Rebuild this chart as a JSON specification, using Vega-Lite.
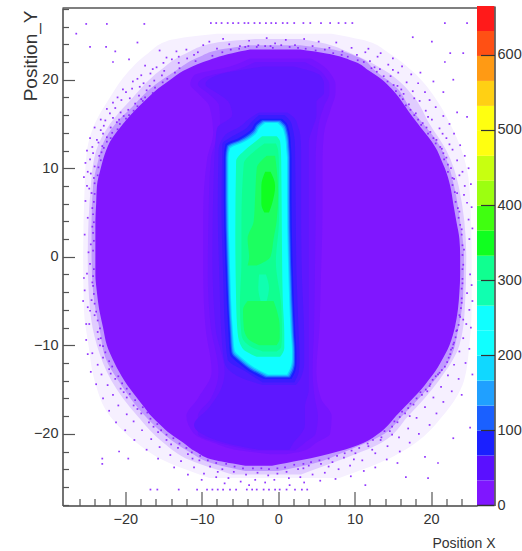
{
"$schema":"https://vega.github.io/schema/vega-lite/v6.json",
"width":432,"height":499.5,"autosize":{"type":"none"},
"padding":{"left":62.5,"top":6,"right":27.5,"bottom":45.5},
"background":"white",
"config":{"view":{"stroke":null},"axis":{"grid":false,"labelFont":"Liberation Sans","labelFontSize":14.5,"labelColor":"#333","titleFont":"Liberation Sans","titleFontWeight":"normal","titleColor":"#333","domainColor":"#444","domainWidth":1.5,"tickColor":"#555","tickWidth":1.2}},
"resolve":{"scale":{"x":"independent","y":"independent"},"axis":{"x":"independent","y":"independent"}},
"layer":[
{"data":{"values":[
{"g":"a","c":"f1","y":25.2,"a":-8,"b":7},{"g":"a","c":"f1","y":24.5,"a":-14,"b":11},{"g":"a","c":"f1","y":23,"a":-17,"b":14.5},{"g":"a","c":"f1","y":21,"a":-19.5,"b":17.5},{"g":"a","c":"f1","y":18,"a":-22,"b":20.5},{"g":"a","c":"f1","y":15,"a":-24,"b":22.5},{"g":"a","c":"f1","y":12,"a":-25,"b":24},{"g":"a","c":"f1","y":8,"a":-25.3,"b":25},{"g":"a","c":"f1","y":0,"a":-25.5,"b":25.3},{"g":"a","c":"f1","y":-6,"a":-25.4,"b":25.3},{"g":"a","c":"f1","y":-10,"a":-24.8,"b":25},{"g":"a","c":"f1","y":-14,"a":-24,"b":24.3},{"g":"a","c":"f1","y":-18,"a":-22,"b":21.5},{"g":"a","c":"f1","y":-21,"a":-18.5,"b":18},{"g":"a","c":"f1","y":-23,"a":-15,"b":14},{"g":"a","c":"f1","y":-25,"a":-9,"b":8},
{"g":"b","c":"f2","y":24.6,"a":-3,"b":3},{"g":"b","c":"f2","y":24.2,"a":-8,"b":5.5},{"g":"b","c":"f2","y":23,"a":-12,"b":9.5},{"g":"b","c":"f2","y":21,"a":-15.5,"b":14},{"g":"b","c":"f2","y":18,"a":-19,"b":17.8},{"g":"b","c":"f2","y":15,"a":-22,"b":19.8},{"g":"b","c":"f2","y":12,"a":-23.8,"b":22},{"g":"b","c":"f2","y":8,"a":-24.5,"b":23.6},{"g":"b","c":"f2","y":0,"a":-24.9,"b":24.6},{"g":"b","c":"f2","y":-6,"a":-24.6,"b":24.4},{"g":"b","c":"f2","y":-10,"a":-23.7,"b":23.7},{"g":"b","c":"f2","y":-14,"a":-21.8,"b":21},{"g":"b","c":"f2","y":-18,"a":-18.4,"b":17},{"g":"b","c":"f2","y":-21,"a":-15,"b":13.5},{"g":"b","c":"f2","y":-23,"a":-11.5,"b":8},{"g":"b","c":"f2","y":-24.6,"a":-6,"b":3},
{"g":"b2","c":"f3","y":23.9,"a":-3.7,"b":2.9},{"g":"b2","c":"f3","y":23.5,"a":-7,"b":6.5},{"g":"b2","c":"f3","y":22.5,"a":-10.5,"b":10.6},{"g":"b2","c":"f3","y":21,"a":-13.4,"b":12.7},{"g":"b2","c":"f3","y":19,"a":-16.7,"b":15.6},{"g":"b2","c":"f3","y":17,"a":-19,"b":17.1},{"g":"b2","c":"f3","y":15,"a":-21.3,"b":19},{"g":"b2","c":"f3","y":13,"a":-22.8,"b":20.8},{"g":"b2","c":"f3","y":11,"a":-23.5,"b":22},{"g":"b2","c":"f3","y":8,"a":-24.2,"b":23},{"g":"b2","c":"f3","y":4,"a":-24.4,"b":23.8},{"g":"b2","c":"f3","y":0,"a":-24.4,"b":24.3},{"g":"b2","c":"f3","y":-4,"a":-24.2,"b":24.2},{"g":"b2","c":"f3","y":-8,"a":-23.4,"b":23.6},{"g":"b2","c":"f3","y":-12,"a":-22.3,"b":22.2},{"g":"b2","c":"f3","y":-14,"a":-20.9,"b":20.4},{"g":"b2","c":"f3","y":-16,"a":-19.3,"b":18.4},{"g":"b2","c":"f3","y":-18,"a":-17.4,"b":16.2},{"g":"b2","c":"f3","y":-20,"a":-15,"b":13.9},{"g":"b2","c":"f3","y":-22,"a":-11.7,"b":8.8},{"g":"b2","c":"f3","y":-23.5,"a":-8,"b":4},{"g":"b2","c":"f3","y":-24.2,"a":-4.3,"b":0},
{"g":"c","c":"0","y":23.4,"a":-3.7,"b":2.9},{"g":"c","c":"0","y":23,"a":-6,"b":6.1},{"g":"c","c":"0","y":22,"a":-9.8,"b":10.1},{"g":"c","c":"0","y":21,"a":-12.4,"b":11.9},{"g":"c","c":"0","y":20,"a":-14.1,"b":13.6},{"g":"c","c":"0","y":19,"a":-15.7,"b":14.8},{"g":"c","c":"0","y":18,"a":-17,"b":15.8},{"g":"c","c":"0","y":17,"a":-18.2,"b":16.6},{"g":"c","c":"0","y":16,"a":-19.3,"b":17.4},{"g":"c","c":"0","y":15,"a":-20.3,"b":18.3},{"g":"c","c":"0","y":14,"a":-21.2,"b":19.2},{"g":"c","c":"0","y":13,"a":-22,"b":20.1},{"g":"c","c":"0","y":12,"a":-22.5,"b":20.8},{"g":"c","c":"0","y":11,"a":-22.9,"b":21.3},{"g":"c","c":"0","y":10,"a":-23.2,"b":21.8},{"g":"c","c":"0","y":8,"a":-23.7,"b":22.5},{"g":"c","c":"0","y":6,"a":-23.8,"b":22.9},{"g":"c","c":"0","y":4,"a":-23.9,"b":23.3},{"g":"c","c":"0","y":2,"a":-23.9,"b":23.7},{"g":"c","c":"0","y":0,"a":-23.9,"b":23.8},{"g":"c","c":"0","y":-2,"a":-23.9,"b":23.8},{"g":"c","c":"0","y":-4,"a":-23.7,"b":23.7},{"g":"c","c":"0","y":-6,"a":-23.4,"b":23.5},{"g":"c","c":"0","y":-8,"a":-22.9,"b":23.1},{"g":"c","c":"0","y":-10,"a":-22.4,"b":22.4},{"g":"c","c":"0","y":-12,"a":-21.4,"b":21.2},{"g":"c","c":"0","y":-13,"a":-20.8,"b":20.5},{"g":"c","c":"0","y":-14,"a":-20.1,"b":19.6},{"g":"c","c":"0","y":-15,"a":-19.3,"b":18.7},{"g":"c","c":"0","y":-16,"a":-18.4,"b":17.6},{"g":"c","c":"0","y":-17,"a":-17.5,"b":16.5},{"g":"c","c":"0","y":-18,"a":-16.6,"b":15.4},{"g":"c","c":"0","y":-19,"a":-15.4,"b":14.4},{"g":"c","c":"0","y":-20,"a":-14.1,"b":13.1},{"g":"c","c":"0","y":-21,"a":-12.4,"b":11.2},{"g":"c","c":"0","y":-22,"a":-10.8,"b":7.8},{"g":"c","c":"0","y":-23,"a":-8.2,"b":2.9},{"g":"c","c":"0","y":-23.6,"a":-4.3,"b":-0.8},
{"g":"d","c":"h1","y":22.4,"a":-3.7,"b":4.3},{"g":"d","c":"h1","y":21.5,"a":-6.3,"b":6},{"g":"d","c":"h1","y":20.5,"a":-11,"b":7},{"g":"d","c":"h1","y":19.5,"a":-11.5,"b":7.5},{"g":"d","c":"h1","y":18.5,"a":-10.5,"b":7.5},{"g":"d","c":"h1","y":17,"a":-9,"b":7},{"g":"d","c":"h1","y":14,"a":-8.5,"b":6},{"g":"d","c":"h1","y":11,"a":-9.3,"b":5.8},{"g":"d","c":"h1","y":5,"a":-9.8,"b":5.8},{"g":"d","c":"h1","y":-2,"a":-9.8,"b":5.6},{"g":"d","c":"h1","y":-8,"a":-9.5,"b":5.4},{"g":"d","c":"h1","y":-13,"a":-8.7,"b":5},{"g":"d","c":"h1","y":-16,"a":-10.5,"b":5.6},{"g":"d","c":"h1","y":-18,"a":-12,"b":7},{"g":"d","c":"h1","y":-20,"a":-11,"b":6.8},{"g":"d","c":"h1","y":-21,"a":-8.5,"b":5},{"g":"d","c":"h1","y":-22,"a":-4,"b":3},{"g":"d","c":"h1","y":-22.3,"a":-1,"b":1},
{"g":"d2","c":"h6","y":22,"a":-3,"b":3.5},{"g":"d2","c":"h6","y":21,"a":-6,"b":5.5},{"g":"d2","c":"h6","y":20.3,"a":-9.5,"b":6.2},{"g":"d2","c":"h6","y":19.5,"a":-10.5,"b":6.7},{"g":"d2","c":"h6","y":18.5,"a":-9.2,"b":6.7},{"g":"d2","c":"h6","y":17,"a":-7.7,"b":6},{"g":"d2","c":"h6","y":15,"a":-7.6,"b":5.3},{"g":"d2","c":"h6","y":11,"a":-8.8,"b":4.9},{"g":"d2","c":"h6","y":5,"a":-9.1,"b":4.9},{"g":"d2","c":"h6","y":-2,"a":-9.2,"b":4.8},{"g":"d2","c":"h6","y":-8,"a":-8.8,"b":4.7},{"g":"d2","c":"h6","y":-13,"a":-7.8,"b":4.5},{"g":"d2","c":"h6","y":-16,"a":-8.8,"b":4.8},{"g":"d2","c":"h6","y":-18,"a":-10.5,"b":5.2},{"g":"d2","c":"h6","y":-20,"a":-10.5,"b":4.9},{"g":"d2","c":"h6","y":-21,"a":-7.8,"b":3.5},{"g":"d2","c":"h6","y":-21.9,"a":-3.2,"b":2.2},
{"g":"e","c":"h2","y":21.5,"a":-2,"b":2},{"g":"e","c":"h2","y":20.5,"a":-8,"b":5.5},{"g":"e","c":"h2","y":19.5,"a":-9.5,"b":6},{"g":"e","c":"h2","y":18.5,"a":-8,"b":6},{"g":"e","c":"h2","y":17.5,"a":-6.5,"b":5},{"g":"e","c":"h2","y":16,"a":-6,"b":5},{"g":"e","c":"h2","y":14.5,"a":-8,"b":4.5},{"g":"e","c":"h2","y":13,"a":-8.2,"b":4},{"g":"e","c":"h2","y":10,"a":-8.4,"b":4},{"g":"e","c":"h2","y":0,"a":-8.6,"b":4},{"g":"e","c":"h2","y":-8,"a":-8.2,"b":4},{"g":"e","c":"h2","y":-13,"a":-7,"b":4},{"g":"e","c":"h2","y":-15,"a":-7.5,"b":4},{"g":"e","c":"h2","y":-17,"a":-9,"b":3.5},{"g":"e","c":"h2","y":-19,"a":-11,"b":3.5},{"g":"e","c":"h2","y":-20,"a":-10,"b":3},{"g":"e","c":"h2","y":-21,"a":-7,"b":2},{"g":"e","c":"h2","y":-21.8,"a":-2.5,"b":1.5},
{"g":"e2","c":"h4","y":16.3,"a":-2.5,"b":1.2},{"g":"e2","c":"h4","y":15.6,"a":-3.8,"b":2.2},{"g":"e2","c":"h4","y":14.7,"a":-5,"b":2.6},{"g":"e2","c":"h4","y":13.7,"a":-7,"b":2.9},{"g":"e2","c":"h4","y":12,"a":-7.8,"b":3},{"g":"e2","c":"h4","y":5,"a":-7.9,"b":3},{"g":"e2","c":"h4","y":-2,"a":-7.7,"b":3.1},{"g":"e2","c":"h4","y":-9,"a":-7.4,"b":3.4},{"g":"e2","c":"h4","y":-12,"a":-7,"b":3.4},{"g":"e2","c":"h4","y":-13.6,"a":-5,"b":3},{"g":"e2","c":"h4","y":-14.5,"a":-2,"b":2.3},
{"g":"e3","c":"h5","y":16,"a":-2.5,"b":0.8},{"g":"e3","c":"h5","y":15.3,"a":-3.4,"b":1.6},{"g":"e3","c":"h5","y":14.5,"a":-4.2,"b":1.9},{"g":"e3","c":"h5","y":13.6,"a":-6,"b":2.1},{"g":"e3","c":"h5","y":12.7,"a":-7.3,"b":2.2},{"g":"e3","c":"h5","y":5,"a":-7.4,"b":2.3},{"g":"e3","c":"h5","y":-2,"a":-7.2,"b":2.4},{"g":"e3","c":"h5","y":-9,"a":-6.9,"b":2.7},{"g":"e3","c":"h5","y":-11.6,"a":-6.6,"b":2.8},{"g":"e3","c":"h5","y":-13,"a":-4.2,"b":2.7},{"g":"e3","c":"h5","y":-14.2,"a":-2,"b":2.1},
{"g":"f","c":"2","y":15.6,"a":-2.3,"b":0.5},{"g":"f","c":"2","y":15.1,"a":-3,"b":1.1},{"g":"f","c":"2","y":14.4,"a":-3.5,"b":1.4},{"g":"f","c":"2","y":13.4,"a":-5.2,"b":1.6},{"g":"f","c":"2","y":12.7,"a":-6.9,"b":1.65},{"g":"f","c":"2","y":11.2,"a":-7.1,"b":1.75},{"g":"f","c":"2","y":6.5,"a":-7.1,"b":1.75},{"g":"f","c":"2","y":-1.1,"a":-6.9,"b":1.9},{"g":"f","c":"2","y":-8.6,"a":-6.5,"b":2.25},{"g":"f","c":"2","y":-11,"a":-6.3,"b":2.4},{"g":"f","c":"2","y":-12.1,"a":-5.1,"b":2.4},{"g":"f","c":"2","y":-12.9,"a":-3.9,"b":2.25},{"g":"f","c":"2","y":-13.8,"a":-1.9,"b":1.75},
{"g":"g","c":"3","y":15.43,"a":-2.1,"b":0.3},{"g":"g","c":"3","y":14.93,"a":-2.8,"b":0.9},{"g":"g","c":"3","y":14.23,"a":-3.3,"b":1.2},{"g":"g","c":"3","y":13.23,"a":-5,"b":1.4},{"g":"g","c":"3","y":12.53,"a":-6.7,"b":1.45},{"g":"g","c":"3","y":11.2,"a":-6.9,"b":1.55},{"g":"g","c":"3","y":6.5,"a":-6.9,"b":1.55},{"g":"g","c":"3","y":-1.1,"a":-6.7,"b":1.7},{"g":"g","c":"3","y":-8.6,"a":-6.3,"b":2.05},{"g":"g","c":"3","y":-10.83,"a":-6.1,"b":2.2},{"g":"g","c":"3","y":-11.93,"a":-4.9,"b":2.2},{"g":"g","c":"3","y":-12.73,"a":-3.7,"b":2.05},{"g":"g","c":"3","y":-13.63,"a":-1.7,"b":1.55},
{"g":"h","c":"4","y":15.32,"a":-1.97,"b":0.17},{"g":"h","c":"4","y":14.82,"a":-2.67,"b":0.77},{"g":"h","c":"4","y":14.12,"a":-3.17,"b":1.07},{"g":"h","c":"4","y":13.12,"a":-4.87,"b":1.27},{"g":"h","c":"4","y":12.42,"a":-6.57,"b":1.32},{"g":"h","c":"4","y":11.2,"a":-6.77,"b":1.42},{"g":"h","c":"4","y":6.5,"a":-6.77,"b":1.42},{"g":"h","c":"4","y":-1.1,"a":-6.57,"b":1.57},{"g":"h","c":"4","y":-8.6,"a":-6.17,"b":1.92},{"g":"h","c":"4","y":-10.72,"a":-5.97,"b":2.07},{"g":"h","c":"4","y":-11.82,"a":-4.77,"b":2.07},{"g":"h","c":"4","y":-12.62,"a":-3.57,"b":1.92},{"g":"h","c":"4","y":-13.52,"a":-1.57,"b":1.42},
{"g":"i","c":"5","y":15.21,"a":-1.83,"b":0.03},{"g":"i","c":"5","y":14.71,"a":-2.53,"b":0.63},{"g":"i","c":"5","y":14.01,"a":-3.03,"b":0.93},{"g":"i","c":"5","y":13.01,"a":-4.73,"b":1.13},{"g":"i","c":"5","y":12.31,"a":-6.43,"b":1.18},{"g":"i","c":"5","y":11.2,"a":-6.63,"b":1.28},{"g":"i","c":"5","y":6.5,"a":-6.63,"b":1.28},{"g":"i","c":"5","y":-1.1,"a":-6.43,"b":1.43},{"g":"i","c":"5","y":-8.6,"a":-6.03,"b":1.78},{"g":"i","c":"5","y":-10.61,"a":-5.83,"b":1.93},{"g":"i","c":"5","y":-11.71,"a":-4.63,"b":1.93},{"g":"i","c":"5","y":-12.51,"a":-3.43,"b":1.78},{"g":"i","c":"5","y":-13.41,"a":-1.43,"b":1.28},
{"g":"j","c":"6","y":15.1,"a":-1.7,"b":-0.1},{"g":"j","c":"6","y":14.6,"a":-2.4,"b":0.5},{"g":"j","c":"6","y":13.9,"a":-2.9,"b":0.8},{"g":"j","c":"6","y":12.9,"a":-4.6,"b":1},{"g":"j","c":"6","y":12.2,"a":-6.3,"b":1.05},{"g":"j","c":"6","y":11.2,"a":-6.5,"b":1.15},{"g":"j","c":"6","y":6.5,"a":-6.5,"b":1.15},{"g":"j","c":"6","y":-1.1,"a":-6.3,"b":1.3},{"g":"j","c":"6","y":-8.6,"a":-5.9,"b":1.65},{"g":"j","c":"6","y":-10.5,"a":-5.7,"b":1.8},{"g":"j","c":"6","y":-11.6,"a":-4.5,"b":1.8},{"g":"j","c":"6","y":-12.4,"a":-3.3,"b":1.65},{"g":"j","c":"6","y":-13.3,"a":-1.3,"b":1.15},
{"g":"k","c":"8","y":13.6,"a":-2.1,"b":-0.2},{"g":"k","c":"8","y":13,"a":-3,"b":0.26},{"g":"k","c":"8","y":12.1,"a":-4.3,"b":0.35},{"g":"k","c":"8","y":10.8,"a":-5.5,"b":0.4},{"g":"k","c":"8","y":2.7,"a":-5.6,"b":0.48},{"g":"k","c":"8","y":-4.9,"a":-5.5,"b":0.6},{"g":"k","c":"8","y":-8.6,"a":-5.3,"b":0.8},{"g":"k","c":"8","y":-10.3,"a":-4.7,"b":0.8},{"g":"k","c":"8","y":-11.3,"a":-2.8,"b":0.26},
{"g":"l","c":"9","y":12.8,"a":-1.8,"b":-0.3},{"g":"l","c":"9","y":12,"a":-3,"b":0},{"g":"l","c":"9","y":10.5,"a":-4.5,"b":0.1},{"g":"l","c":"9","y":4,"a":-4.8,"b":0.1},{"g":"l","c":"9","y":-0.5,"a":-4.8,"b":-0.3},{"g":"l","c":"9","y":-5.5,"a":-5,"b":0.4},{"g":"l","c":"9","y":-8.8,"a":-4.8,"b":0.5},{"g":"l","c":"9","y":-10.2,"a":-3.5,"b":0.4},{"g":"l","c":"9","y":-10.7,"a":-2,"b":-0.2},
{"g":"m","c":"h3","y":11.4,"a":-1.5,"b":-0.4},{"g":"m","c":"h3","y":10,"a":-2.8,"b":-0.2},{"g":"m","c":"h3","y":7,"a":-3,"b":0},{"g":"m","c":"h3","y":4,"a":-3.2,"b":-0.2},{"g":"m","c":"h3","y":2,"a":-4,"b":-0.6},{"g":"m","c":"h3","y":0,"a":-3.8,"b":-1},{"g":"m","c":"h3","y":-1,"a":-4,"b":-2.8},
{"g":"n","c":"h3","y":-5,"a":-4,"b":-0.6},{"g":"n","c":"h3","y":-6,"a":-4.6,"b":-0.2},{"g":"n","c":"h3","y":-8,"a":-4.5,"b":0.2},{"g":"n","c":"h3","y":-9.2,"a":-4,"b":0.2},{"g":"n","c":"h3","y":-10,"a":-2.5,"b":-0.2},
{"g":"o","c":"10","y":9.6,"a":-1.7,"b":-1},{"g":"o","c":"10","y":8,"a":-2.2,"b":-0.4},{"g":"o","c":"10","y":6,"a":-2.2,"b":-0.8},{"g":"o","c":"10","y":5,"a":-1.8,"b":-1.2},
{"g":"p","c":"8","y":-2,"a":-2.5,"b":-1.6},{"g":"p","c":"8","y":-3.5,"a":-2.6,"b":-1.2},{"g":"p","c":"8","y":-5,"a":-2.3,"b":-1.5}
]},
"mark":{"type":"area","orient":"horizontal","interpolate":"monotone"},
"encoding":{
"y":{"field":"y","type":"quantitative","scale":{"domain":[-28.1,28.1],"range":[499.5,2],"nice":false,"zero":false},"axis":{"orient":"left","values":[-20,-10,0,10,20],"ticks":false,"labelPadding":4.5,"zindex":1,"title":"Position_Y","titleFontSize":19,"titleAngle":-90,"titleAlign":"right","titleX":-22.5,"titleY":4}},
"x":{"field":"a","type":"quantitative","scale":{"domain":[-28.2,26],"range":[0,414.5],"nice":false,"zero":false},"axis":{"orient":"bottom","values":[-20,-10,0,10,20],"ticks":false,"labelPadding":7,"zindex":1,"title":"Position  X","titleFontSize":14,"titleAlign":"right","titleX":432.5,"titleY":31}},
"x2":{"field":"b"},
"detail":{"field":"g"},
"color":{"field":"c","type":"nominal","legend":null,"scale":{"domain":["0","1","2","3","4","5","6","7","8","9","10","11","12","13","14","15","16","17","18","19","f1","f2","f3","h1","h2","h3","h4","h5","h6"],"range":["#8016ff","#5a10ff","#1a20ff","#1a60ff","#20a0ff","#10d8ff","#10ffff","#10ffff","#10ffb0","#10ff90","#10ff20","#40ff10","#9cff10","#c8ff10","#ffff10","#ffff10","#ffd014","#ff9a14","#ff5014","#ff1a1a","#f6f0ff","#e0ccff","#c09aff","#7514ff","#5e17ff","#1cff60","#4e1aff","#3a1cff","#6a15ff"]}}
}},
{"data":{"values":[
{"x":-25.1,"y":26.3},{"x":-22.4,"y":26.3},{"x":-17.5,"y":26.3},{"x":-26.4,"y":25.2},{"x":-24.6,"y":23.7},{"x":-22.5,"y":23.7},{"x":-21.3,"y":23.2},{"x":-19.5,"y":22.3},{"x":-21.6,"y":22},{"x":-18.4,"y":24.2},
{"x":-23,"y":-22.8},{"x":-23,"y":-23.4},{"x":-20.8,"y":-22},{"x":-19.6,"y":-22.8},{"x":-16.7,"y":-26.3},{"x":-15.8,"y":-26.3},{"x":-13,"y":-26.3},{"x":-10.6,"y":-26.3},
{"x":21.8,"y":26.4},{"x":24.7,"y":26.4},{"x":22.5,"y":23},{"x":24.2,"y":23},{"x":21.8,"y":22},{"x":22.9,"y":20},{"x":20.1,"y":24.3},{"x":17.6,"y":24.8},{"x":20.3,"y":19.8},{"x":21.6,"y":18.6},{"x":18.6,"y":20.8},{"x":24.7,"y":15.8},{"x":23.4,"y":16.3},
{"x":25.1,"y":-19.3},{"x":22.9,"y":-20.5},{"x":20.9,"y":-23.3},{"x":19.6,"y":-25},{"x":16.7,"y":-24.9},{"x":15.6,"y":-23.3},{"x":19.2,"y":-22.6},{"x":11.4,"y":-25.8},{"x":24,"y":-15.6},{"x":25.4,"y":-13.3},
{"x":-8.8,"y":26.4},{"x":-8.1,"y":26.4},{"x":-7.4,"y":26.4},{"x":-6.6,"y":26.4},{"x":-5.9,"y":26.4},{"x":-5.2,"y":26.4},{"x":-4.4,"y":26.4},{"x":-3.9,"y":26.4},{"x":-3.1,"y":26.4},{"x":-2.4,"y":26.4},{"x":-1.6,"y":26.4},{"x":-0.9,"y":26.4},{"x":-0.3,"y":26.4},{"x":0.6,"y":26.4},{"x":1.2,"y":26.4},{"x":2.1,"y":26.4},{"x":3.3,"y":26.4},{"x":4.2,"y":26.4},{"x":5.6,"y":26.4},{"x":6.8,"y":26.4},{"x":7.9,"y":26.4},{"x":8.8,"y":26.4},{"x":9.7,"y":26.4},
{"x":-9.3,"y":-26.3},{"x":-8.6,"y":-26.3},{"x":-7.9,"y":-26.3},{"x":-7.2,"y":-26.3},{"x":-6.3,"y":-26.3},{"x":-5.5,"y":-26.3},{"x":-4.1,"y":-26.3},{"x":-3.4,"y":-26.3},{"x":-2.8,"y":-26.3},{"x":-1.9,"y":-26.3},{"x":-1.2,"y":-26.3},{"x":-0.4,"y":-26.3},{"x":0.2,"y":-26.3},{"x":1.1,"y":-26.3},{"x":2.2,"y":-26.3},{"x":3.1,"y":-26.3},{"x":3.8,"y":-26.3},
{"x":-12,"y":23.4},{"x":-11,"y":22.8},{"x":-13.3,"y":23.2},{"x":-9.8,"y":23.9},{"x":-14.6,"y":22.5},{"x":-15.5,"y":23.3},{"x":-13,"y":21.9},{"x":-15.9,"y":21.4},{"x":-14.9,"y":21},{"x":-16.7,"y":20.7},{"x":-17.4,"y":21.6},{"x":-16.2,"y":19.9},{"x":-17.6,"y":19.6},{"x":-18.4,"y":20.1},{"x":-17.2,"y":18.8},{"x":-19.1,"y":19},{"x":-18.2,"y":18.2},{"x":-19.9,"y":18.6},{"x":-18.7,"y":17.3},{"x":-20.5,"y":17.7},{"x":-19.6,"y":16.6},{"x":-21.3,"y":16.8},{"x":-20.2,"y":15.9},{"x":-22,"y":16.2},{"x":-21.1,"y":15.2},{"x":-22.6,"y":15.4},{"x":-21.9,"y":14.6},{"x":-23.2,"y":14.3},{"x":-22.4,"y":13.5},{"x":-23.7,"y":13.2},{"x":-23,"y":12.5},{"x":-24.3,"y":12.4},{"x":-23.4,"y":11.4},{"x":-24.6,"y":11},{"x":-24,"y":10.2},{"x":-24.9,"y":9.6},{"x":-24.1,"y":8.9},{"x":-25,"y":8},{"x":-24.4,"y":7.2},{"x":-25.2,"y":6.3},{"x":-24.3,"y":5.5},{"x":-24.9,"y":4.4},{"x":-24.3,"y":3.4},{"x":-25.3,"y":2.5},{"x":-24.5,"y":1.4},{"x":-24.8,"y":0.5},
{"x":-10.5,"y":23.1},{"x":-8,"y":23.5},{"x":-6.4,"y":24},{"x":-5,"y":23.8},{"x":-7.2,"y":24.6},{"x":-3.8,"y":24.4},{"x":-2.6,"y":23.9},{"x":-1.5,"y":24.7},{"x":-0.4,"y":24.1},{"x":-11.9,"y":22.4},{"x":-13.9,"y":22.3},{"x":-15.2,"y":20.5},{"x":-16.8,"y":19.3},{"x":-18.1,"y":19.2},{"x":-19.4,"y":17.9},{"x":-20.6,"y":16.3},{"x":-21.6,"y":15.7},{"x":-22.8,"y":14.8},{"x":-23.5,"y":12.9},{"x":-24.2,"y":11.7},{"x":-24.5,"y":9.4},{"x":-24.7,"y":7.7},{"x":-9,"y":24.3},{"x":-4.3,"y":23.7},{"x":-1,"y":23.8},{"x":-17.9,"y":17.8},{"x":-20.8,"y":15.5},{"x":-22.9,"y":13.9},
{"x":1,"y":24.5},{"x":2.2,"y":23.9},{"x":3.4,"y":24.6},{"x":4.5,"y":23.8},{"x":5.3,"y":24.3},{"x":6.7,"y":23.6},{"x":7.6,"y":24.2},{"x":8.4,"y":23.2},{"x":9.6,"y":23.6},{"x":10.3,"y":22.8},{"x":11.4,"y":23.1},{"x":12,"y":22.1},{"x":13,"y":22.6},{"x":13.3,"y":21.2},{"x":14.4,"y":21.7},{"x":14.7,"y":20.4},{"x":15.7,"y":20.8},{"x":15.6,"y":19.3},{"x":16.8,"y":19.7},{"x":16.4,"y":18.4},{"x":17.6,"y":18.7},{"x":17.1,"y":17.2},{"x":18.5,"y":17.6},{"x":18,"y":16.2},{"x":19.3,"y":16.5},{"x":18.9,"y":15.1},{"x":20.1,"y":15.5},{"x":19.9,"y":14.1},{"x":21.1,"y":14.5},{"x":20.7,"y":13.2},{"x":22,"y":13.4},{"x":21.4,"y":12.2},{"x":22.8,"y":12.1},{"x":22,"y":11.2},{"x":23.4,"y":10.9},{"x":22.6,"y":10},{"x":24.1,"y":9.6},{"x":23,"y":8.8},{"x":24.4,"y":8},{"x":23.4,"y":7.2},{"x":24.7,"y":6.1},{"x":23.7,"y":5.1},{"x":24.9,"y":4.2},{"x":24,"y":3.1},{"x":25,"y":2},{"x":24.3,"y":0.8},
{"x":12.6,"y":21.4},{"x":15,"y":21.1},{"x":16.1,"y":18.9},{"x":17.8,"y":17.9},{"x":19.6,"y":15.8},{"x":21.5,"y":13.9},{"x":22.4,"y":12.7},{"x":23.7,"y":9.2},{"x":24.3,"y":7},
{"x":-24.6,"y":-0.8},{"x":-25,"y":-1.9},{"x":-24.3,"y":-2.9},{"x":-25.3,"y":-3.8},{"x":-24.4,"y":-4.9},{"x":-24.9,"y":-5.7},{"x":-24,"y":-6.6},{"x":-24.7,"y":-7.6},{"x":-23.6,"y":-8.5},{"x":-25.1,"y":-9.4},{"x":-23.3,"y":-10},{"x":-24.3,"y":-10.9},{"x":-22.9,"y":-11.4},{"x":-23.6,"y":-12.2},{"x":-22.1,"y":-12.7},{"x":-23.1,"y":-13.3},{"x":-21.3,"y":-13.8},{"x":-22.3,"y":-14.5},{"x":-20.6,"y":-14.9},{"x":-21.6,"y":-15.6},{"x":-19.8,"y":-15.9},{"x":-20.9,"y":-16.8},{"x":-18.9,"y":-16.8},{"x":-19.8,"y":-17.8},{"x":-17.9,"y":-17.7},{"x":-18.9,"y":-18.6},{"x":-16.9,"y":-18.7},{"x":-17.8,"y":-19.6},{"x":-15.7,"y":-19.8},{"x":-16.6,"y":-20.6},{"x":-14.6,"y":-20.7},{"x":-15.5,"y":-21.5},{"x":-13.1,"y":-21.6},{"x":-14.1,"y":-22.4},{"x":-11.8,"y":-22.3},{"x":-12.7,"y":-23.1},{"x":-10.3,"y":-23},{"x":-11,"y":-23.8},{"x":-8.9,"y":-23.7},{"x":-9.7,"y":-24.5},{"x":-7.3,"y":-24},{"x":-8.1,"y":-24.9},{"x":-5.8,"y":-24.3},{"x":-6.5,"y":-25},{"x":-4.2,"y":-24.6},{"x":-4.9,"y":-25.4},{"x":-2.7,"y":-24.4},{"x":-3,"y":-25.2},{"x":-1.3,"y":-24.7},{"x":-1.7,"y":-25.5},{"x":-0.1,"y":-24.5},{"x":-0.5,"y":-25.2},
{"x":-24.1,"y":-1.4},{"x":-24.6,"y":-6.1},{"x":-23.5,"y":-9.3},{"x":-21.9,"y":-13.2},{"x":-20.2,"y":-15.3},{"x":-18.4,"y":-17.2},{"x":-16.3,"y":-19.2},{"x":-14,"y":-21.2},{"x":-11.2,"y":-22.8},{"x":-7.9,"y":-24.3},
{"x":1.1,"y":-24.3},{"x":1.4,"y":-25},{"x":2.6,"y":-24},{"x":2.9,"y":-24.9},{"x":4,"y":-23.6},{"x":4.5,"y":-24.6},{"x":5.6,"y":-23.4},{"x":6.1,"y":-24.4},{"x":7.1,"y":-23.2},{"x":7.9,"y":-24},{"x":8.6,"y":-22.7},{"x":9.4,"y":-23.6},{"x":10.1,"y":-22.2},{"x":11,"y":-23},{"x":11.8,"y":-21.4},{"x":12.7,"y":-22.2},{"x":13.4,"y":-20.7},{"x":14.3,"y":-21.4},{"x":14.6,"y":-19.7},{"x":15.8,"y":-20.4},{"x":15.6,"y":-18.7},{"x":17,"y":-19.4},{"x":16.6,"y":-17.7},{"x":18.1,"y":-18.2},{"x":17.7,"y":-16.7},{"x":19.2,"y":-17},{"x":18.8,"y":-15.6},{"x":20.3,"y":-15.9},{"x":19.8,"y":-14.6},{"x":21.3,"y":-14.7},{"x":20.6,"y":-13.5},{"x":22.2,"y":-13.4},{"x":21.8,"y":-12.4},{"x":23,"y":-12.2},{"x":22.5,"y":-11},{"x":23.7,"y":-10.7},{"x":23,"y":-9.7},{"x":24.2,"y":-9.2},{"x":23.4,"y":-8.3},{"x":24.6,"y":-7.6},{"x":23.8,"y":-6.8},{"x":25,"y":-6},{"x":24,"y":-5.2},{"x":24.7,"y":-4.1},{"x":24.1,"y":-3},{"x":25.1,"y":-2},{"x":24.2,"y":-0.9},
{"x":3.3,"y":-23.9},{"x":6.6,"y":-23.7},{"x":9.9,"y":-22.9},{"x":12.3,"y":-21.8},{"x":14.9,"y":-20.1},{"x":17.2,"y":-18},{"x":19.5,"y":-15.2},{"x":21.1,"y":-13.1},{"x":22.8,"y":-10.3},{"x":24.2,"y":-7.1},
{"x":-10.8,"y":22.1},{"x":-12.9,"y":21.3},{"x":-13.5,"y":20.8},{"x":-14.5,"y":20.1},{"x":-15.1,"y":19.7},{"x":-16.1,"y":19.1},{"x":-16.4,"y":18.5},{"x":-17.4,"y":18},{"x":-17.7,"y":17.6},{"x":-18.4,"y":17},{"x":-18.9,"y":16.5},{"x":-19.5,"y":16},{"x":-19.9,"y":15.6},{"x":-20.7,"y":15},{"x":-21,"y":14.4},{"x":-21.7,"y":14},{"x":-21.9,"y":13.4},{"x":-22.4,"y":13},{"x":-22.8,"y":12.3},{"x":-23.1,"y":11.8},{"x":-23.2,"y":10.9},{"x":-23.5,"y":10.1},{"x":-23.6,"y":9.2},{"x":-24,"y":8.3},{"x":-24,"y":7.1},{"x":-24.1,"y":6.2},{"x":-24.2,"y":4.8},{"x":-24.1,"y":3.9},{"x":-24.2,"y":2.7},{"x":-24.1,"y":1.8},{"x":-24.2,"y":0.7},
{"x":-8.6,"y":22.7},{"x":-7.3,"y":23.1},{"x":-6.2,"y":23.4},{"x":-5.1,"y":23.5},{"x":-3.9,"y":23.8},{"x":-2.8,"y":23.7},{"x":-1.7,"y":23.8},{"x":-0.7,"y":23.6},{"x":0.4,"y":23.9},{"x":1.5,"y":23.7},{"x":2.6,"y":23.6},{"x":3.6,"y":23.5},{"x":4.9,"y":23.3},{"x":6.1,"y":23.4},{"x":7.2,"y":23},{"x":8.3,"y":22.8},{"x":9.1,"y":22.6},{"x":10.4,"y":22.2},{"x":11.2,"y":22},{"x":12.2,"y":21.3},{"x":12.9,"y":20.9},{"x":13.8,"y":20.4},{"x":14.3,"y":19.8},{"x":15.1,"y":19.4},{"x":15.4,"y":18.7},{"x":15.9,"y":18.2},{"x":16.3,"y":17.8},{"x":16.7,"y":17.1},{"x":17.3,"y":16.6},{"x":17.8,"y":16},{"x":18.3,"y":15.5},{"x":18.7,"y":14.9},{"x":19.4,"y":14.6},{"x":19.6,"y":13.9},{"x":20.3,"y":13.4},{"x":20.6,"y":12.8},{"x":21.2,"y":12.4},{"x":21.6,"y":11.7},{"x":21.7,"y":11},{"x":22.2,"y":10.4},{"x":22.2,"y":9.6},{"x":22.8,"y":8.9},{"x":22.8,"y":8.1},{"x":23.1,"y":7.3},{"x":23.2,"y":6.2},{"x":23.5,"y":5.5},{"x":23.6,"y":4.4},{"x":23.8,"y":3.6},{"x":24,"y":2.5},{"x":24.1,"y":1.3},{"x":24.1,"y":0.2},
{"x":24.1,"y":-1.4},{"x":24.1,"y":-2.5},{"x":24,"y":-3.6},{"x":24,"y":-4.7},{"x":23.9,"y":-5.8},{"x":23.7,"y":-6.6},{"x":23.6,"y":-7.7},{"x":23.3,"y":-8.4},{"x":23.2,"y":-9.1},{"x":22.9,"y":-9.9},{"x":22.6,"y":-10.5},{"x":22.3,"y":-11.4},{"x":22.1,"y":-11.9},{"x":21.4,"y":-12.8},{"x":20.9,"y":-13.3},{"x":20.2,"y":-13.9},{"x":19.9,"y":-14.4},{"x":19.3,"y":-15},{"x":18.6,"y":-15.3},{"x":18.1,"y":-16},{"x":17.3,"y":-16.6},{"x":17,"y":-17.1},{"x":16.2,"y":-17.5},{"x":15.9,"y":-18.1},{"x":15.2,"y":-18.6},{"x":14.9,"y":-19.2},{"x":13.9,"y":-19.7},{"x":13.5,"y":-20.4},{"x":12.4,"y":-20.7},{"x":11.7,"y":-21.1},{"x":10.6,"y":-21.6},{"x":9.6,"y":-21.9},{"x":8.7,"y":-22.2},{"x":7.7,"y":-22.5},{"x":6.6,"y":-22.8},{"x":5.4,"y":-23},{"x":4.3,"y":-23.2},{"x":3.3,"y":-23.4},{"x":2.1,"y":-23.5},{"x":0.9,"y":-23.8},{"x":-0.1,"y":-23.9},{"x":-1.2,"y":-24},{"x":-2.2,"y":-23.9},{"x":-3.3,"y":-23.9},{"x":-4.6,"y":-23.9},{"x":-5.7,"y":-23.7},{"x":-6.8,"y":-23.4},{"x":-8.1,"y":-23.3},{"x":-9.2,"y":-23},{"x":-10.2,"y":-22.5},{"x":-11.3,"y":-22.1},{"x":-12,"y":-21.6},{"x":-12.9,"y":-21.1},{"x":-13.7,"y":-20.5},{"x":-14.6,"y":-20.1},{"x":-15.3,"y":-19.6},{"x":-15.8,"y":-18.9},{"x":-16.7,"y":-18.3},{"x":-17.1,"y":-17.6},{"x":-17.7,"y":-17},{"x":-18.7,"y":-16.2},{"x":-19.4,"y":-15.5},{"x":-19.8,"y":-14.9},{"x":-20.4,"y":-14.3},{"x":-20.9,"y":-13.5},{"x":-21.7,"y":-12.4},{"x":-22.1,"y":-11.8},{"x":-22.6,"y":-10.8},{"x":-22.9,"y":-10.1},{"x":-23.2,"y":-9.2},{"x":-23.3,"y":-8.1},{"x":-23.6,"y":-7.2},{"x":-23.8,"y":-6.2},{"x":-24,"y":-5.3},{"x":-24.1,"y":-4.2},{"x":-24.2,"y":-3.3},{"x":-24.2,"y":-2.2},
{"x":-13,"y":22.6},{"x":-15,"y":21.9},{"x":-16.4,"y":21.2},{"x":-17.9,"y":20.5},{"x":-19,"y":19.8},{"x":-20.3,"y":18.9},{"x":-21,"y":18},{"x":-21.6,"y":17.4},{"x":-22.4,"y":16.7},{"x":-23.2,"y":15.5},{"x":-24,"y":14.6},{"x":-24.6,"y":13.4},{"x":-25,"y":12},{"x":-25.2,"y":10.6},{"x":-25.4,"y":9},
{"x":11.8,"y":23.5},{"x":13.4,"y":23},{"x":15,"y":22.4},{"x":16.2,"y":21.5},{"x":17.4,"y":20.6},{"x":18.3,"y":19.6},{"x":19.2,"y":18.6},{"x":19.8,"y":17.7},{"x":20.6,"y":16.9},{"x":21.6,"y":15.9},{"x":22.4,"y":15},{"x":23,"y":13.9},{"x":23.8,"y":12.6},{"x":24.4,"y":11.4},{"x":24.9,"y":10},{"x":25.2,"y":8.2},{"x":25.3,"y":5.6},{"x":25.4,"y":3.2},
{"x":25.3,"y":-3.2},{"x":25.4,"y":-5},{"x":25.2,"y":-8},{"x":25,"y":-10.4},{"x":24.5,"y":-12},{"x":23.6,"y":-13.8},{"x":22.7,"y":-15.2},{"x":21.6,"y":-16.4},{"x":20.7,"y":-17.7},{"x":19.8,"y":-19},{"x":18.4,"y":-20},{"x":17.2,"y":-21},{"x":15.9,"y":-22},{"x":14.2,"y":-22.9},{"x":12.7,"y":-23.8},{"x":11.2,"y":-24.2},{"x":9.5,"y":-24.8},{"x":7.5,"y":-25.1},{"x":5.5,"y":-25.3},{"x":3.4,"y":-25.5},{"x":1.5,"y":-25.8},
{"x":-25.4,"y":-2.4},{"x":-25.5,"y":-5},{"x":-25.1,"y":-7.6},{"x":-24.9,"y":-11},{"x":-24.5,"y":-13},{"x":-23.8,"y":-14.4},{"x":-22.9,"y":-16},{"x":-22.1,"y":-17.4},{"x":-21.2,"y":-18.7},{"x":-20,"y":-19.6},{"x":-18.8,"y":-20.7},{"x":-17.2,"y":-21.8},{"x":-15.7,"y":-22.8},{"x":-13.6,"y":-23.8},{"x":-11.8,"y":-24.6},{"x":-10,"y":-25.2},{"x":-7,"y":-25.6},{"x":-3.8,"y":-25.8}
]},
"mark":{"type":"square","size":3,"opacity":0.85,"color":"#8016ff"},
"encoding":{
"x":{"field":"x","type":"quantitative","scale":{"domain":[-28.2,26],"range":[0,414.5],"nice":false,"zero":false},"axis":{"orient":"bottom","values":[-26,-24,-22,-18,-16,-14,-12,-8,-6,-4,-2,2,4,6,8,12,14,16,18,22,24],"offset":-7,"tickSize":7,"labels":false,"domain":false,"title":null,"zindex":1}},
"y":{"field":"y","type":"quantitative","scale":{"domain":[-28.1,28.1],"range":[499.5,2],"nice":false,"zero":false},"axis":{"orient":"left","values":[-28,-26,-24,-22,-18,-16,-14,-12,-8,-6,-4,-2,2,4,6,8,12,14,16,18,22,24,26,28],"offset":-6,"tickSize":6,"labels":false,"domain":false,"title":null,"zindex":1}}
}},
{"data":{"values":[
{"a":0,"b":33.25,"c":"0"},{"a":33.25,"b":66.5,"c":"1"},{"a":66.5,"b":99.75,"c":"2"},{"a":99.75,"b":133,"c":"3"},{"a":133,"b":166.25,"c":"4"},{"a":166.25,"b":199.5,"c":"5"},{"a":199.5,"b":232.75,"c":"6"},{"a":232.75,"b":266,"c":"7"},{"a":266,"b":299.25,"c":"8"},{"a":299.25,"b":332.5,"c":"9"},{"a":332.5,"b":365.75,"c":"10"},{"a":365.75,"b":399,"c":"11"},{"a":399,"b":432.25,"c":"12"},{"a":432.25,"b":465.5,"c":"13"},{"a":465.5,"b":498.75,"c":"14"},{"a":498.75,"b":532,"c":"15"},{"a":532,"b":565.25,"c":"16"},{"a":565.25,"b":598.5,"c":"17"},{"a":598.5,"b":631.75,"c":"18"},{"a":631.75,"b":665,"c":"19"}
]},
"mark":{"type":"rect"},
"encoding":{
"x":{"datum":0,"type":"quantitative","axis":null,"scale":{"domain":[0,1],"range":[414.5,432],"nice":false,"zero":false}},
"x2":{"datum":1},
"y":{"field":"a","type":"quantitative","scale":{"domain":[0,665],"range":[499.5,0],"nice":false,"zero":false},"axis":{"orient":"right","values":[0,100,200,300,400,500,600],"ticks":false,"labelPadding":2.5,"title":null,"zindex":1}},
"y2":{"field":"b"},
"color":{"field":"c","type":"nominal","legend":null}
}},
{"data":{"values":[{"top":28.1}]},
"mark":{"type":"rule","color":"#555","strokeWidth":1.5},
"encoding":{
"y":{"field":"top","type":"quantitative","scale":{"domain":[-28.1,28.1],"range":[499.5,2],"nice":false,"zero":false},"axis":{"orient":"left","values":[-20,-10,0,10,20],"offset":-12,"tickSize":12,"labels":false,"domain":false,"title":null,"zindex":1}},
"x":{"datum":-28.2,"type":"quantitative","scale":{"domain":[-28.2,26],"range":[0,414.5],"nice":false,"zero":false},"axis":{"orient":"bottom","values":[-20,-10,0,10,20],"offset":-14,"tickSize":14,"labels":false,"domain":false,"title":null,"zindex":1}},
"x2":{"datum":26}
}},
{"data":{"values":[{"z":0}]},
"mark":{"type":"rule","color":"#333","strokeWidth":1.5},
"encoding":{
"y":{"field":"z","type":"quantitative","scale":{"domain":[0,665],"range":[499.5,0],"nice":false,"zero":false},"axis":{"orient":"right","values":[100,200,300,400,500,600],"offset":-14,"tickSize":14,"tickColor":"#333","labels":false,"domain":false,"title":null,"zindex":1}},
"x":{"datum":0,"type":"quantitative","axis":null,"scale":{"domain":[0,1],"range":[414.5,432],"nice":false,"zero":false}},
"x2":{"datum":1}
}}
]
}
